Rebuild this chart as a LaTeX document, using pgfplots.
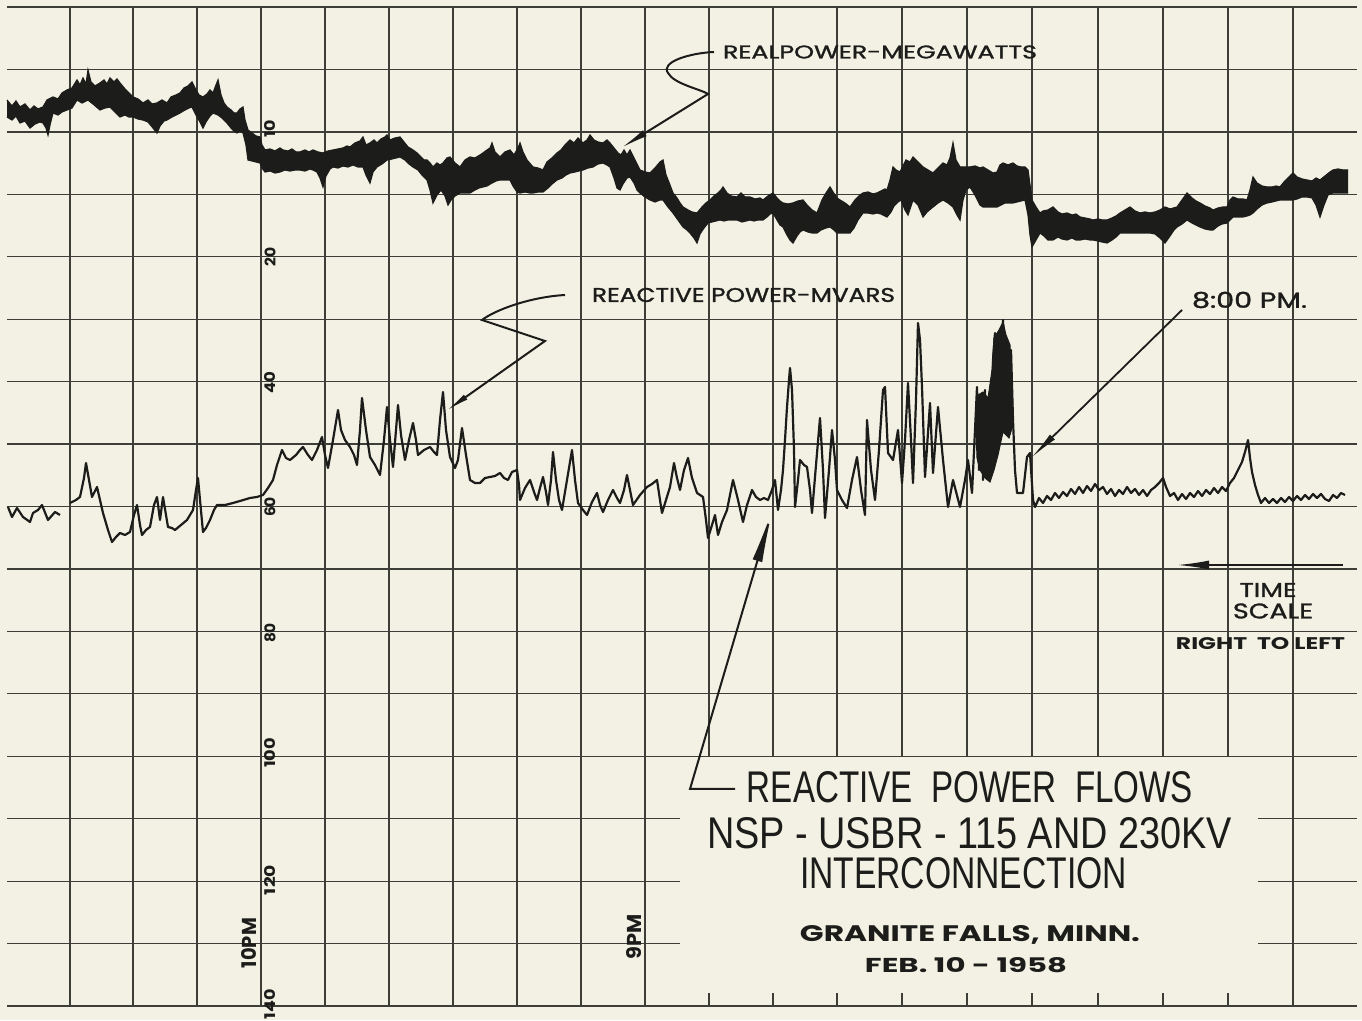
\documentclass[border=0pt]{standalone}
\usepackage{pgfplots}
\pgfplotsset{compat=1.18}
\usepgfplotslibrary{fillbetween}
\usetikzlibrary{arrows.meta}
\usepackage{graphicx}
\usepackage{fontspec}
\setmainfont{Liberation Sans}
\newfontfamily\lab{Poppins}
\newfontfamily\labm[FakeBold=1.2]{Poppins}
\definecolor{paper}{RGB}{242,241,227}
\definecolor{ink}{RGB}{28,28,26}
\definecolor{gridc}{RGB}{62,62,56}
\newcommand{\tx}[3]{\resizebox{#1pt}{#2pt}{#3}}
\begin{document}
\begin{tikzpicture}
\begin{axis}[scale only axis, width=1362pt, height=1020pt,
  xmin=0, xmax=1362, ymin=0, ymax=1020, y dir=reverse,
  hide axis, enlargelimits=false, set layers, clip=false]
\coordinate (SW) at (axis cs:0,1020);
\coordinate (NE) at (axis cs:1362,0);
\begin{pgfonlayer}{axis background}
\fill[paper] (0,0) rectangle (1362,1020);
\end{pgfonlayer}
\begin{pgfonlayer}{axis grid}
\draw[gridc, line width=1.3pt]
  (7,7) -- (1357,7) (7,69.5) -- (1357,69.5) (7,131.9) -- (1357,131.9)
  (7,194.3) -- (1357,194.3) (7,256.8) -- (1357,256.8) (7,319.2) -- (1357,319.2)
  (7,381.6) -- (1357,381.6) (7,444.1) -- (1357,444.1) (7,506.5) -- (1357,506.5)
  (7,569) -- (1357,569) (7,631.4) -- (1357,631.4) (7,693.8) -- (1357,693.8)
  (7,756.3) -- (1357,756.3) (7,1006) -- (1357,1006)
  (7,818.7) -- (680,818.7) (1258,818.7) -- (1357,818.7)
  (7,881.2) -- (680,881.2) (1258,881.2) -- (1357,881.2)
  (7,943.6) -- (680,943.6) (1258,943.6) -- (1357,943.6)
  (70,7) -- (70,1006) (133,7) -- (133,1006) (197,7) -- (197,1006)
  (261,7) -- (261,1006) (325,7) -- (325,1006) (389,7) -- (389,1006)
  (453,7) -- (453,1006) (517,7) -- (517,1006) (581,7) -- (581,1006)
  (645,7) -- (645,1006) (1293,7) -- (1293,1006)
  (709,7) -- (709,756.3) (773,7) -- (773,756.3) (837,7) -- (837,756.3)
  (902,7) -- (902,756.3) (967,7) -- (967,756.3) (1032,7) -- (1032,756.3)
  (1098,7) -- (1098,756.3) (1163,7) -- (1163,756.3) (1228,7) -- (1228,756.3)
  (709,993) -- (709,1006) (773,993) -- (773,1006) (837,993) -- (837,1006)
  (902,993) -- (902,1006) (967,993) -- (967,1006) (1032,993) -- (1032,1006)
  (1098,993) -- (1098,1006) (1163,993) -- (1163,1006) (1228,993) -- (1228,1006);
\end{pgfonlayer}

% REAL POWER (upper and lower edge of the trace band)
\addplot[name path=U, draw=ink, line width=1.2pt, mark=none] coordinates {
(7,100) (12,106) (16,101) (20,107) (25,104) (30,110) (34,106) (38,109) (43,107) (47,100)
(53,97) (58,99) (62,93) (67,90) (72,88) (77,80) (80,85) (83,78) (86,84) (88,70)
(91,82) (95,86) (100,83) (104,80) (107,84) (110,78) (114,82) (117,79) (120,83) (125,89)
(129,93) (133,97) (138,99) (143,103) (148,100) (152,104) (157,103) (162,100) (167,103) (171,97)
(176,95) (180,93) (184,88) (188,86) (192,82) (195,88) (199,95) (203,97) (207,94) (210,90)
(213,93) (216,85) (218,80) (221,95) (224,103) (227,107) (231,110) (234,113) (237,113) (240,109)
(243,107) (245,120) (248,130) (252,133) (256,136) (260,137) (262,145) (265,150) (270,149) (275,151)
(280,148) (283,150) (288,151) (292,149) (296,152) (300,152) (305,150) (309,152) (313,150) (318,152)
(323,153) (328,151) (333,150) (338,149) (343,148) (347,146) (350,147) (355,143) (360,141) (363,137)
(366,145) (370,143) (374,140) (377,143) (381,139) (385,137) (387,135) (390,140) (395,138) (400,137)
(404,142) (408,147) (413,150) (417,153) (421,157) (424,160) (427,160) (430,163) (433,167) (437,163)
(440,165) (443,163) (447,158) (450,157) (455,163) (460,167) (465,160) (470,157) (475,158) (480,155)
(483,153) (487,150) (490,148) (492,143) (495,152) (500,157) (505,152) (510,150) (514,155) (518,148)
(520,143) (523,152) (527,160) (533,167) (538,168) (543,170) (547,162) (552,158) (557,153) (561,150)
(565,145) (570,140) (574,143) (578,138) (583,143) (587,140) (590,135) (594,140) (598,142) (603,143)
(607,140) (610,143) (614,148) (618,153) (621,155) (624,150) (627,155) (630,150) (635,160) (640,170)
(645,172) (650,173) (655,168) (660,162) (663,160) (666,175) (670,185) (673,193) (677,198) (680,203)
(683,207) (688,210) (692,212) (697,213) (702,207) (706,203) (710,200) (714,196) (718,193) (721,190)
(723,187) (727,193) (731,196) (737,197) (741,193) (745,197) (750,197) (755,199) (760,198) (763,200)
(768,196) (773,193) (777,198) (780,201) (783,203) (788,204) (793,203) (798,201) (803,200) (807,205)
(812,210) (817,213) (822,200) (826,193) (830,187) (833,192) (837,198) (840,200) (845,203) (850,207)
(855,200) (860,195) (863,193) (868,192) (873,194) (877,193) (881,191) (885,189) (887,190) (890,180)
(893,167) (896,170) (900,172) (903,166) (906,160) (910,162) (913,157) (918,162) (923,167) (928,170)
(933,173) (938,168) (943,163) (947,165) (950,158) (953,143) (956,160) (960,167) (965,167) (970,167)
(975,166) (980,168) (983,167) (988,170) (993,173) (997,172) (1000,165) (1003,163) (1008,165) (1013,163)
(1017,166) (1021,167) (1025,167) (1028,170) (1030,185) (1032,200) (1036,207) (1040,213) (1043,211) (1048,210)
(1053,207) (1058,212) (1062,214) (1067,213) (1072,215) (1076,214) (1080,217) (1085,218) (1090,219) (1093,220)
(1098,219) (1102,220) (1107,220) (1112,218) (1116,216) (1120,213) (1125,210) (1130,207) (1135,211) (1140,213)
(1145,212) (1150,213) (1155,212) (1160,210) (1165,207) (1170,209) (1177,207) (1182,200) (1187,193) (1192,198)
(1196,201) (1200,203) (1205,206) (1210,208) (1213,210) (1218,208) (1223,207) (1227,207) (1230,200) (1233,197)
(1238,199) (1243,199) (1247,200) (1250,190) (1253,177) (1257,183) (1262,186) (1267,187) (1272,187) (1276,186)
(1280,187) (1284,182) (1288,178) (1293,173) (1297,177) (1302,179) (1307,180) (1312,181) (1316,178) (1320,180)
(1325,176) (1330,172) (1333,170) (1338,169) (1343,170) (1348,170)
};
\addplot[name path=L, draw=ink, line width=1.2pt, mark=none] coordinates {
(7,117) (12,120) (16,116) (20,123) (25,121) (30,128) (35,124) (40,122) (43,123) (46,128)
(48,135) (50,125) (53,113) (58,115) (62,112) (67,110) (72,108) (77,100) (82,103) (88,100)
(93,104) (100,110) (105,108) (110,107) (115,112) (120,117) (125,115) (129,117) (133,117) (138,119)
(143,120) (148,122) (153,128) (157,133) (160,126) (164,121) (167,120) (172,117) (176,115) (180,113)
(185,110) (189,108) (192,107) (196,115) (200,122) (203,128) (206,122) (210,116) (213,113) (218,115)
(222,118) (227,123) (231,128) (234,131) (237,133) (240,131) (243,133) (246,145) (248,160) (252,161)
(256,162) (260,163) (262,168) (265,172) (270,171) (275,173) (280,172) (285,170) (290,171) (295,170)
(300,170) (305,171) (310,169) (313,170) (317,172) (320,178) (323,187) (326,176) (330,169) (333,167)
(338,168) (343,166) (348,167) (353,165) (358,167) (363,167) (366,175) (370,183) (373,172) (377,167)
(382,164) (387,160) (392,159) (396,158) (400,157) (405,160) (409,164) (413,167) (418,170) (422,175)
(427,180) (430,190) (433,203) (437,195) (441,190) (445,196) (448,205) (451,200) (455,196) (460,193)
(465,193) (470,193) (475,190) (479,188) (483,187) (487,186) (492,183) (496,181) (500,180) (505,180)
(510,180) (513,186) (517,192) (520,193) (525,192) (530,193) (533,193) (538,192) (543,192) (548,188)
(552,184) (557,180) (562,178) (566,175) (570,173) (575,172) (579,171) (583,170) (588,168) (593,167)
(598,164) (603,163) (607,165) (610,167) (614,178) (617,188) (620,190) (623,184) (627,178) (630,177)
(634,183) (637,190) (640,193) (645,197) (650,200) (655,202) (660,200) (663,200) (668,207) (673,213)
(678,220) (683,227) (687,230) (690,233) (694,238) (697,243) (700,234) (704,228) (708,223) (712,222)
(716,221) (720,220) (724,221) (728,220) (733,220) (737,220) (742,222) (746,221) (750,220) (754,221)
(758,220) (763,220) (767,217) (770,214) (773,213) (777,220) (780,225) (783,227) (787,235) (790,240)
(793,243) (797,236) (800,232) (803,230) (808,232) (812,233) (817,233) (821,230) (826,228) (830,227)
(834,230) (837,233) (840,233) (845,233) (850,233) (854,228) (858,220) (863,213) (868,213) (873,214)
(877,213) (881,214) (885,216) (887,217) (891,212) (894,206) (898,202) (901,200) (905,210) (908,215)
(913,200) (918,205) (923,217) (927,212) (933,207) (938,203) (943,200) (948,203) (953,207) (957,215)
(960,220) (963,200) (966,190) (970,187) (975,195) (980,205) (983,207) (988,207) (993,207) (997,207)
(1001,205) (1005,203) (1009,203) (1013,203) (1017,202) (1021,201) (1025,200) (1028,215) (1030,235) (1032,247)
(1036,240) (1040,233) (1044,236) (1048,240) (1053,240) (1058,237) (1062,239) (1067,240) (1072,238) (1076,240)
(1080,240) (1085,239) (1090,240) (1093,240) (1098,241) (1102,242) (1107,243) (1112,240) (1116,237) (1120,233)
(1125,233) (1130,233) (1135,233) (1140,233) (1145,233) (1150,233) (1155,234) (1160,238) (1165,243) (1170,236)
(1174,230) (1177,227) (1182,224) (1187,220) (1192,223) (1196,225) (1200,227) (1205,229) (1210,230) (1213,230)
(1218,226) (1222,224) (1227,223) (1230,220) (1233,217) (1238,217) (1243,217) (1247,216) (1250,215) (1253,213)
(1257,209) (1262,205) (1267,203) (1272,202) (1276,201) (1280,200) (1284,200) (1288,200) (1293,200) (1297,199)
(1302,197) (1307,197) (1312,198) (1316,205) (1320,217) (1324,205) (1328,195) (1333,193) (1338,193) (1343,193)
(1348,193)
};
\addplot[ink] fill between[of=U and L];

% REACTIVE POWER
\addplot[ink, line width=2.2pt, mark=none, line join=round] coordinates {
(8,507) (12,517) (17,508) (23,517) (30,522) (33,513) (38,510) (42,505) (48,520) (55,512) (60,515)
};
\addplot[ink, line width=2.2pt, mark=none, line join=round] coordinates {
(70,503) (76,500) (80,497) (84,478) (86,463) (89,480) (92,497) (97,487) (103,513) (108,530)
(112,542) (116,537) (120,533) (125,535) (130,532) (134,515) (137,505) (140,525) (142,535) (146,530)
(150,527) (154,505) (157,497) (160,520) (163,497) (166,515) (168,527) (172,528) (175,530) (181,525)
(187,520) (193,510) (196,490) (198,478) (200,500) (203,532) (206,528) (210,520) (214,510) (217,505)
(225,505) (233,503) (240,501) (250,498) (257,497) (263,495) (268,488) (273,480) (277,465) (282,450)
(286,458) (290,460) (296,455) (300,450) (303,447) (308,455) (312,460) (317,450) (322,437) (325,455)
(328,468) (333,440) (338,410) (341,430) (345,440) (350,447) (354,455) (357,465) (360,430) (362,398)
(366,430) (370,457) (375,465) (380,475) (384,440) (387,407) (390,440) (393,467) (396,430) (398,405)
(401,435) (405,460) (409,440) (413,423) (416,440) (418,455) (424,450) (430,447) (434,452) (437,455)
(440,420) (443,392) (446,430) (450,457) (455,468) (458,460) (462,428) (466,455) (470,480) (475,483)
(480,483) (485,478) (490,477) (495,476) (500,473) (504,478) (508,480) (512,472) (517,470) (519,485)
(520,500) (525,488) (530,480) (534,492) (537,500) (540,488) (543,477) (546,492) (548,505) (551,480)
(553,452) (556,480) (559,500) (562,510) (567,480) (572,450) (575,480) (578,503) (583,510) (587,515)
(592,502) (597,493) (600,505) (603,512) (608,500) (613,490) (617,498) (620,503) (624,490) (627,475)
(630,490) (633,505) (640,495) (647,487) (652,484) (657,480) (660,500) (662,513) (666,500) (670,487)
(674,463) (677,478) (680,490) (684,470) (688,458) (692,478) (697,493) (703,497) (706,520) (708,538)
(712,525) (715,515) (718,535) (722,522) (727,510) (730,495) (733,480) (738,500) (743,522) (747,505)
(752,490) (756,497) (760,500) (764,498) (768,500) (772,490) (775,480) (778,510) (781,490) (783,470)
(785,440) (787,407) (789,380) (790,368) (792,390) (794,450) (795,507) (798,480) (800,460) (804,465)
(807,467) (810,490) (812,513) (816,465) (820,418) (823,470) (825,518) (829,470) (832,430) (835,460)
(837,490) (842,500) (847,508) (852,480) (857,457) (861,490) (865,515) (867,420) (871,470) (875,500)
(879,450) (883,390) (885,387) (888,453) (893,460) (898,430) (902,483) (905,440) (908,383) (911,440)
(913,483) (916,400) (918,323) (920,340) (922,387) (925,477) (930,403) (933,473) (938,407) (943,460)
(948,507) (953,480) (960,507) (965,480) (968,460) (972,493) (975,430) (977,387) (979,470) (981,395)
(983,480) (985,390) (987,470) (989,400) (991,475) (993,360) (995,333) (997,420) (999,340) (1001,400)
(1003,320) (1005,380) (1007,340) (1009,430) (1011,350) (1013,420) (1015,470) (1017,493) (1023,493) (1027,457)
(1030,453) (1033,500) (1035,507) (1039,498) (1043,503) (1047,496) (1051,500) (1055,493) (1059,498) (1063,492)
(1067,496) (1071,489) (1075,494) (1079,487) (1083,493) (1087,486) (1091,491) (1095,484) (1099,490) (1103,487)
(1107,494) (1111,489) (1115,496) (1119,490) (1123,494) (1127,487) (1131,493) (1135,489) (1139,495) (1143,490)
(1147,496) (1151,490) (1155,487) (1159,483) (1163,478) (1166,487) (1170,496) (1174,493) (1178,500) (1182,494)
(1186,499) (1190,493) (1194,497) (1198,491) (1202,496) (1206,490) (1210,494) (1214,488) (1218,493) (1222,487)
(1226,491) (1230,483) (1234,478) (1238,470) (1242,462) (1245,452) (1248,440) (1250,458) (1252,472) (1255,485)
(1258,495) (1261,503) (1265,498) (1269,503) (1273,499) (1277,503) (1281,498) (1285,502) (1289,497) (1293,501)
(1297,496) (1301,500) (1305,495) (1309,499) (1313,494) (1317,498) (1321,494) (1325,499) (1329,501) (1333,495)
(1337,498) (1341,493) (1345,495)
};
% dense overwritten part of the reactive trace
\addplot[fill=ink, draw=ink, line width=1pt, mark=none] coordinates {
(976,430) (978,395) (983,392) (988,398) (992,370) (994,338) (999,330) (1003,322) (1006,335) (1010,345)
(1012,380) (1013,425) (1009,438) (1003,432) (998,455) (994,470) (990,482) (985,478) (980,470) (977,458)
} -- cycle;

% leaders and arrows
\draw[ink, line width=2pt, -{Latex[length=28pt,width=7pt]}] (714,52) .. controls (690,53) and (660,62) .. (668,73) .. controls (674,84) and (700,89) .. (708,94) -- (621,148);
\draw[ink, line width=2pt, -{Latex[length=24pt,width=6pt]}] (565,295) .. controls (530,297) and (495,310) .. (482,320) -- (545,341) -- (446,411);
\draw[ink, line width=1.8pt, -{Latex[length=30pt,width=7pt]}] (1182,310) -- (1031,458);
\draw[ink, line width=2pt, -{Latex[length=55pt,width=10pt]}] (735,789) -- (690,789) -- (773,508);
\draw[ink, line width=2pt, -{Latex[length=32pt,width=9pt]}] (1343,565) -- (1177,565);

% labels
\begin{scope}[every node/.style={inner sep=0pt, text=ink}]
\node at (880,52) {\tx{314}{13}{\labm REALPOWER-MEGAWATTS}};
\node at (743.5,295) {\tx{303}{14}{\labm REACTIVE POWER-MVARS}};
\node at (1249.5,300) {\tx{115}{16}{\labm 8:00 PM.}};
\node at (1268,590) {\tx{57}{14}{\labm TIME}};
\node at (1273,611) {\tx{80}{15}{\labm SCALE}};
\node at (1260.5,644) {\tx{169}{12}{\lab\bfseries RIGHT \ TO LEFT}};
\node at (970,787) {\tx{446}{31}{REACTIVE \ POWER \ FLOWS}};
\node at (969.5,833) {\tx{525}{31}{NSP - USBR - 115 AND 230KV}};
\node at (963.5,873) {\tx{327}{31}{INTERCONNECTION}};
\node at (970,935) {\tx{340}{16}{\lab\bfseries GRANITE FALLS, MINN.}};
\node at (966,965) {\tx{202}{15}{\lab\bfseries FEB. 10 - 1958}};
\node[rotate=90] at (270,129) {\tx{18}{11}{\lab\bfseries 10}};
\node[rotate=90] at (270,257) {\tx{19}{11}{\lab\bfseries 20}};
\node[rotate=90] at (270,383) {\tx{22}{11}{\lab\bfseries 40}};
\node[rotate=90] at (270,507) {\tx{20}{11}{\lab\bfseries 60}};
\node[rotate=90] at (270,633) {\tx{20}{11}{\lab\bfseries 80}};
\node[rotate=90] at (270,753) {\tx{30}{11}{\lab\bfseries 100}};
\node[rotate=90] at (270,880) {\tx{30}{11}{\lab\bfseries 120}};
\node[rotate=90] at (270,1004) {\tx{30}{11}{\lab\bfseries 140}};
\node[rotate=90] at (249,943) {\tx{50}{15}{\lab\bfseries 10PM}};
\node[rotate=90] at (634,937) {\tx{45}{15}{\lab\bfseries 9PM}};
\end{scope}
\end{axis}
\pgfresetboundingbox
\path (SW) rectangle (NE);
\end{tikzpicture}
\end{document}
